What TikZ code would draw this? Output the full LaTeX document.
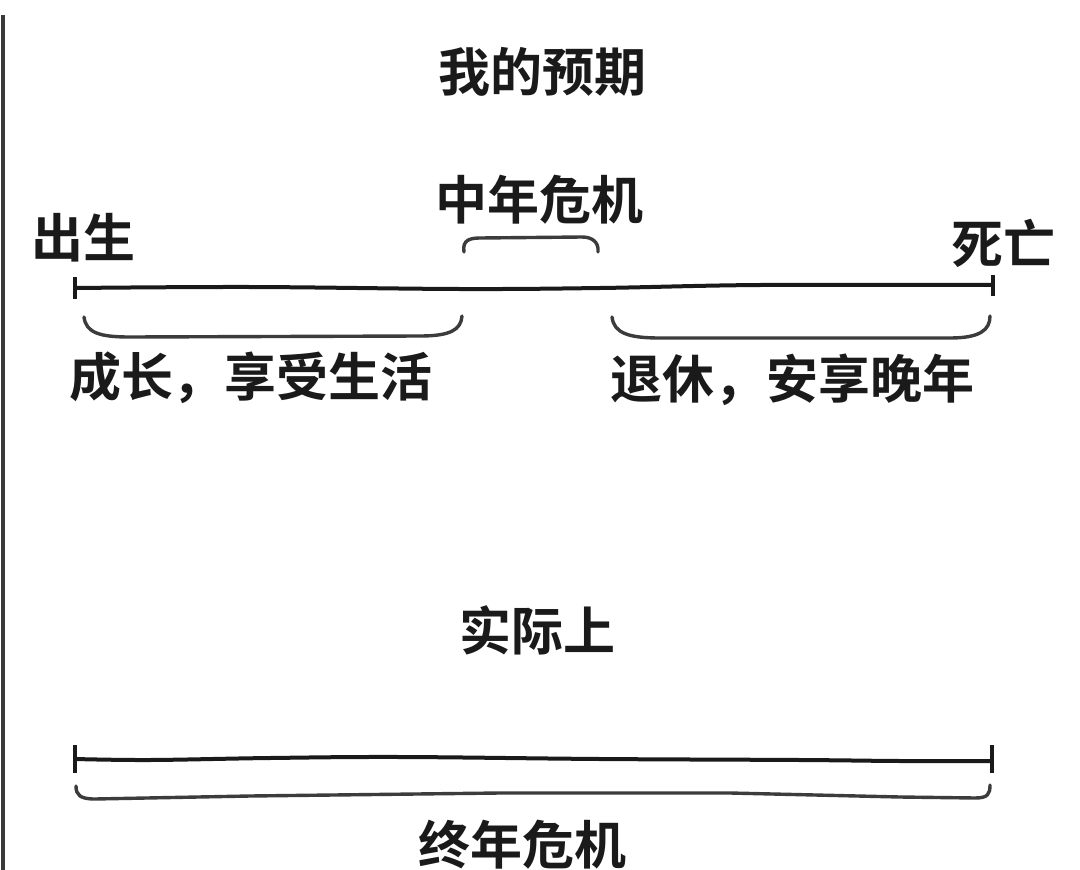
\documentclass[tikz,border=0pt]{standalone}
\usepackage{fontspec}
\setmainfont{Noto Sans CJK SC}[BoldFont={Noto Sans CJK SC Bold}]
\definecolor{ink}{HTML}{1A1A1A}
\definecolor{edge}{HTML}{3A3A3A}
\begin{document}
\begin{tikzpicture}[x=1pt,y=-1pt,
  lbl/.style={font=\fontsize{52}{58}\selectfont\bfseries, text=ink, inner sep=0pt},
  tl/.style={line width=4pt, draw=ink, line cap=round},
  brc/.style={line width=3.4pt, draw=ink!85, line cap=round},
  tick/.style={line width=3.2pt, draw=ink}]
\useasboundingbox[fill=white] (0,0) rectangle (1080,870);
\draw[line width=3.5pt, edge] (3,15) -- (3,870);

% titles
\node[lbl] (expect) at (542,72) {我的预期};
\node[lbl] (reality) at (537,630) {实际上};

% timeline 1
\coordinate (b1) at (75,288);
\coordinate (d1) at (993,285);
\node[lbl] (birth) at (83,238) {出生};
\node[lbl] (death) at (1003,243) {死亡};
\node[lbl] (mid) at (539,200) {中年危机};
\node[lbl] (grow) at (251,378) {成长，享受生活};
\node[lbl] (retire) at (792,380) {退休，安享晚年};

\draw[tl] (b1) plot[smooth, tension=0.6] coordinates {(75,288) (250,287) (460,289) (600,288) (760,285) (993,285)};
\draw[tick] (75,277) -- (75,299);
\draw[tick] (993,275) -- (993,296);

% braces
\draw[brc] (464,252) .. controls (462,240) and (470,238) .. (480,238)
  -- (582,237) .. controls (592,237) and (599,242) .. (598,252);
\draw[brc] (84,317) .. controls (86,333) and (100,337) .. (130,337)
  -- (420,336) .. controls (450,336) and (461,330) .. (462,316);
\draw[brc] (612,317) .. controls (614,333) and (628,338) .. (660,338)
  -- (950,338) .. controls (980,338) and (990,330) .. (990,316);

% timeline 2
\coordinate (b2) at (75,759);
\coordinate (d2) at (992,760);
\node[lbl] (whole) at (522,845) {终年危机};
\draw[tl] (b2) plot[smooth, tension=0.6] coordinates {(75,759) (150,760) (270,758) (400,757) (600,759) (800,760) (900,761) (992,761)};
\draw[tick] (75,745) -- (75,773);
\draw[tick] (992,745) -- (992,773);
\draw[brc] (76,786) .. controls (76,795) and (80,799) .. (95,799)
  -- (250,796) -- (500,793) -- (730,793) -- (900,797) -- (975,798)
  .. controls (988,798) and (990,794) .. (990,785);
\end{tikzpicture}
\end{document}
